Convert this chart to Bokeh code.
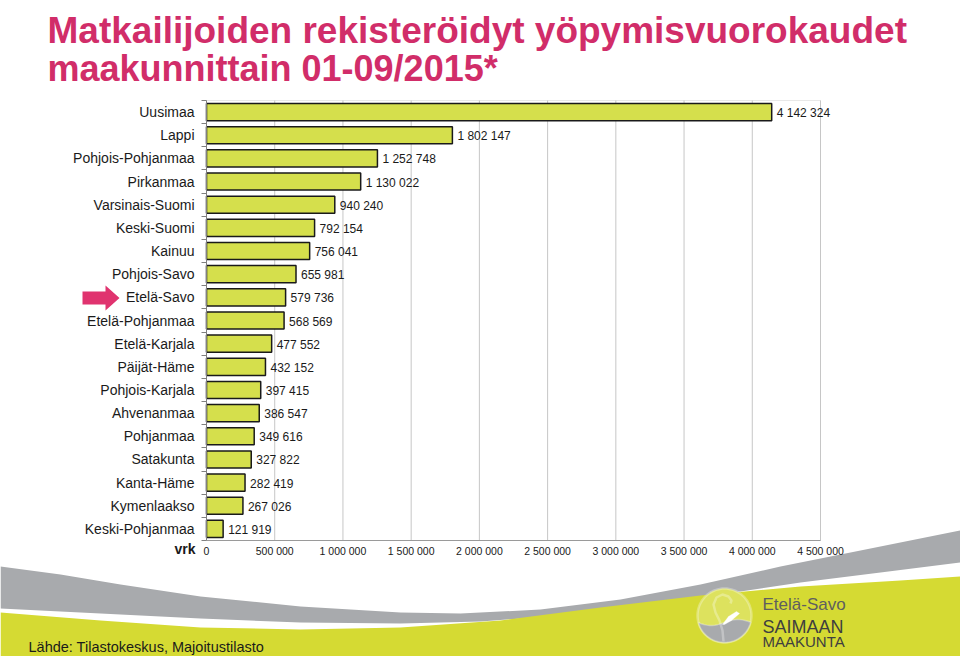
import numpy as np
from bokeh.plotting import figure
from bokeh.models import (Range1d, FixedTicker, Label, PolyAnnotation, BoxAnnotation,
                          ColumnDataSource, LinearAxis)
from bokeh.core.properties import value
from bokeh.embed import file_html
from bokeh.resources import INLINE

# ---------------- data ----------------
regions = [
    "Uusimaa", "Lappi", "Pohjois-Pohjanmaa", "Pirkanmaa", "Varsinais-Suomi",
    "Keski-Suomi", "Kainuu", "Pohjois-Savo", "Etelä-Savo", "Etelä-Pohjanmaa",
    "Etelä-Karjala", "Päijät-Häme", "Pohjois-Karjala", "Ahvenanmaa", "Pohjanmaa",
    "Satakunta", "Kanta-Häme", "Kymenlaakso", "Keski-Pohjanmaa",
]
nights = [
    4142324, 1802147, 1252748, 1130022, 940240,
    792154, 756041, 655981, 579736, 568569,
    477552, 432152, 397415, 386547, 349616,
    327822, 282419, 267026, 121919,
]
x_ticks = [0, 500000, 1000000, 1500000, 2000000, 2500000,
           3000000, 3500000, 4000000, 4500000]
x_tick_labels = ["0", "500 000", "1 000 000", "1 500 000", "2 000 000",
                 "2 500 000", "3 000 000", "3 500 000", "4 000 000", "4 500 000"]

title_line1 = "Matkailijoiden rekisteröidyt yöpymisvuorokaudet"
title_line2 = "maakunnittain 01-09/2015*"
unit_label = "vrk"
source_note = "Lähde: Tilastokeskus, Majoitustilasto"
logo_lines = ["Etelä-Savo", "SAIMAAN", "MAAKUNTA"]

# ---------------- layout ----------------
W, H = 960, 656
# plot area in canvas pixels
PL, PR, PT, PB = 206, 820, 100, 540
X_MAX = 4500000
n = len(regions)
Y_LO, Y_HI = -0.5, n - 0.5

xpp = X_MAX / (PR - PL)          # data units per pixel (x)
ypp = (Y_HI - Y_LO) / (PB - PT)  # data units per pixel (y)
x_range = Range1d(-PL * xpp, X_MAX + (W - PR) * xpp)
y_range = Range1d(Y_LO - (H - PB) * ypp, Y_HI + PT * ypp)

FONT = "Liberation Sans"
BAR = "#d5df4c"
BAND = "#d5da33"
GRAY = "#a8aaad"
PINK = "#d12d69"

ypos = [n - 1 - i for i in range(n)]
value_labels = [f"{v:,}".replace(",", " ") for v in nights]
src = ColumnDataSource(dict(region=regions, y=ypos, v=nights, lab=value_labels))

p = figure(width=W, height=H, output_backend="svg", toolbar_location=None,
           x_range=x_range, y_range=y_range,
           x_axis_location=None, y_axis_location=None,
           min_border=0, min_border_left=0, min_border_right=0,
           min_border_top=0, min_border_bottom=0)
p.background_fill_color = "white"
p.border_fill_color = "white"
p.outline_line_color = None
p.xgrid.visible = False
p.ygrid.visible = False


def poly(pts, **kw):
    return PolyAnnotation(xs=[float(a) for a, b in pts], ys=[float(b) for a, b in pts],
                          xs_units="canvas", ys_units="canvas", **kw)


# ---------------- background decoration (underlay) ----------------
gray_top = [(0, 566), (60, 574), (120, 584), (200, 596), (300, 606), (400, 612),
            (460, 613), (540, 609), (620, 599), (700, 584), (780, 566), (860, 550), (960, 530)]
gray_bot = [(960, 562), (880, 572), (800, 582), (720, 594), (640, 606), (560, 615),
            (480, 621), (400, 623), (300, 622), (200, 618), (120, 614), (60, 611), (0, 608)]
p.add_layout(poly(gray_top + gray_bot, level="underlay",
                  fill_color=GRAY, fill_alpha=1, line_color=None))

band_top = [(0, 612), (100, 620), (200, 627), (300, 629), (400, 627), (500, 620),
            (600, 607), (700, 595), (800, 586), (900, 580), (960, 576)]
p.add_layout(poly(band_top + [(960, 670), (0, 670)], level="underlay",
                  fill_color=BAND, fill_alpha=1, line_color=None))

# logo circle
lc_x, lc_y, lr = 724, 615, 27
t = np.linspace(0, 2 * np.pi, 73)
p.add_layout(poly(list(zip(lc_x + lr * np.cos(t), lc_y + lr * np.sin(t))), level="underlay",
                  fill_color="#dde25e", fill_alpha=1, line_color="white", line_width=2.5))
ang = np.linspace(np.deg2rad(15), np.deg2rad(165), 40)
wave_x = np.linspace(lc_x - lr * 0.966, lc_x + lr * 0.966, 20)
wave_y = lc_y + 7 - 3 * np.sin((wave_x - lc_x) / lr * np.pi)
water = list(zip(lc_x + lr * np.cos(ang), lc_y + lr * np.sin(ang))) + list(zip(wave_x, wave_y))
p.add_layout(poly(water, level="underlay", fill_color=GRAY, fill_alpha=1,
                  line_color="white", line_width=1.5))
stem = [(723, 641), (722, 630), (719, 620), (715, 612), (713, 604), (716, 597),
        (722, 594), (728, 596), (731, 600), (730, 603)]
p.add_layout(poly(stem + stem[::-1], level="underlay", fill_alpha=0,
                  line_color="white", line_width=2.5))
leaf = [(722, 624), (728, 616), (736, 611), (739, 613), (731, 620), (724, 624)]
p.add_layout(poly(leaf, level="underlay", fill_color="white", fill_alpha=1,
                  line_color="white", line_width=1))

# ---------------- plot area ----------------
p.add_layout(BoxAnnotation(left=0, right=X_MAX, bottom=Y_LO, top=Y_HI, level="underlay",
                           fill_color="white", fill_alpha=1,
                           line_color="#b4b4b4", line_width=1))
p.segment(x0=x_ticks[1:], y0=Y_LO, x1=x_ticks[1:], y1=Y_HI,
          line_color="#c6c6c6", line_width=1)

p.hbar(y="y", right="v", left=0, height=0.74, source=src,
       fill_color=BAR, line_color="#1a1a1a", line_width=1.5)
p.text(x="v", y="y", text="lab", source=src, x_offset=5, y_offset=1,
       text_baseline="middle", text_align="left",
       text_font=value(FONT), text_font_size="12px", text_color="#1a1a1a")

# ---------------- axes ----------------
xaxis = LinearAxis(fixed_location=Y_LO, bounds=(0, X_MAX))
xaxis.ticker = FixedTicker(ticks=x_ticks)
xaxis.major_label_overrides = {tk: lb for tk, lb in zip(x_ticks, x_tick_labels)}
xaxis.major_tick_out = 0
xaxis.major_tick_in = 0
xaxis.minor_tick_line_color = None
xaxis.axis_line_color = "#9a9a9a"
xaxis.major_label_text_font = FONT
xaxis.major_label_text_font_size = "10.5px"
xaxis.major_label_text_color = "#1a1a1a"
xaxis.major_label_standoff = 4
p.add_layout(xaxis, "below")

yaxis = LinearAxis(fixed_location=0, bounds=(Y_LO, Y_HI))
yaxis.ticker = FixedTicker(ticks=ypos, minor_ticks=[k - 0.5 for k in range(n + 1)])
yaxis.major_label_overrides = {yy: r for yy, r in zip(ypos, regions)}
yaxis.major_tick_out = 0
yaxis.major_tick_in = 0
yaxis.minor_tick_out = 5
yaxis.minor_tick_in = 0
yaxis.minor_tick_line_color = "#808080"
yaxis.axis_line_color = "#808080"
yaxis.major_label_text_font = FONT
yaxis.major_label_text_font_size = "14px"
yaxis.major_label_text_color = "#1a1a1a"
yaxis.major_label_standoff = 7
p.add_layout(yaxis, "left")

# ---------------- texts ----------------
def label(x, y, text, **kw):
    return Label(x=x, y=y, x_units="canvas", y_units="canvas", text=text,
                 text_font=FONT, text_baseline="alphabetic", **kw)


p.add_layout(label(47, 30, title_line1, text_font_style="bold",
                   text_font_size="37px", text_color=PINK))
p.add_layout(label(47, 68, title_line2, text_font_style="bold",
                   text_font_size="36px", text_color=PINK))
p.add_layout(label(195, 548, unit_label, text_font_style="bold", text_font_size="14px",
                   text_color="#1a1a1a", text_align="right"))
p.add_layout(label(28, 646, source_note, text_font_size="14.5px", text_color="#1a1a1a"))

# arrow pointing to Etelä-Savo
arrow = [(82, 291), (105, 291), (105, 285), (119, 297.5), (105, 310), (105, 304), (82, 304)]
p.add_layout(poly(arrow, fill_color="#e0336f", fill_alpha=1, line_color=None))

# logo texts
p.add_layout(label(762, 604, logo_lines[0], text_font_size="17px", text_color="#5f5f5f"))
p.add_layout(label(762, 626, logo_lines[1], text_font_size="18px", text_color="#3f3f3f"))
p.add_layout(label(762, 641, logo_lines[2], text_font_size="15px", text_color="#3f3f3f"))

open("out.html", "w").write(file_html(p, INLINE))
